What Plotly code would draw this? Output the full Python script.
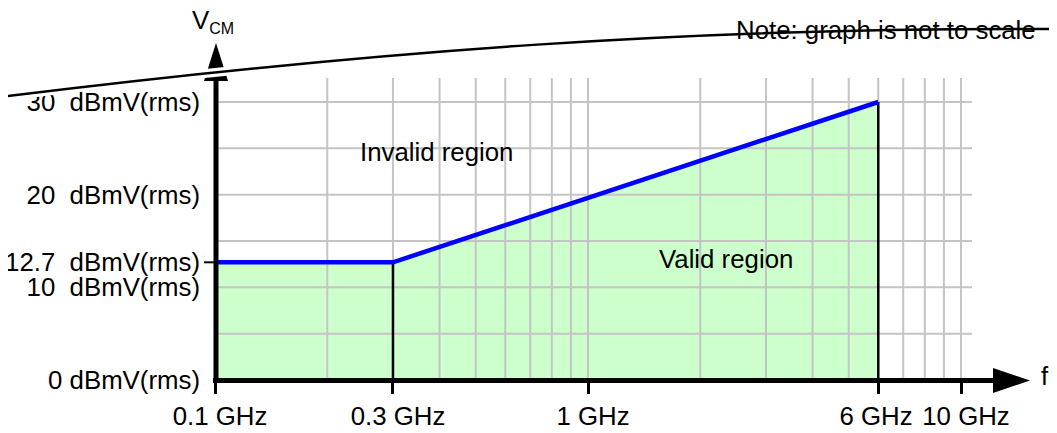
import plotly.graph_objects as go

# limit line (GHz, dBmV rms)
limit_f = [0.1, 0.3, 6]
limit_v = [12.7, 12.7, 30]

x_tick_vals = [0.1, 0.3, 1, 6, 10]
x_tick_text = ["0.1 GHz", "0.3 GHz", "1 GHz", "6 GHz\u00a0\u00a0", "10 GHz"]
y_tick_vals = [0, 10, 12.7, 20, 30]
y_tick_text = ["0 dBmV(rms)", "10  dBmV(rms)", "12.7  dBmV(rms)", "20  dBmV(rms)", "30  dBmV(rms)"]

x_grid = [0.1, 0.2, 0.3, 0.4, 0.5, 0.6, 0.7, 0.8, 0.9, 1, 2, 3, 4, 5, 6, 7, 8, 9, 10]
y_grid = [5, 10, 15, 20, 25, 30]

# page body has an 8px margin, so figure coords = screen coords - 8
OFF = 8
W, H = 1057, 433
L, T = 215 - OFF, 78 - OFF
R, B = W - (972 - OFF), H - (380 - OFF)
XR = [-1, -1 + (W - L - R) / 373]
YR = [0, (H - T - B) / ((380 - 102) / 30)]
FONT = "Liberation Sans, Arial, sans-serif"
FS = 25.8


def px(x):
    return (x - OFF - L) / (W - L - R)


def py(y):
    return (H - B - (y - OFF)) / (H - T - B)


fig = go.Figure()

# valid region fill
fig.add_trace(go.Scatter(
    x=limit_f + [limit_f[-1], limit_f[0]], y=limit_v + [0, 0],
    fill="toself", fillcolor="#ccffcc", mode="lines", line=dict(width=0),
    hoverinfo="skip"))

# grid (drawn over the fill)
gx, gy = [], []
for v in x_grid:
    gx += [v, v, None]
    gy += [0, YR[1], None]
for v in y_grid:
    gx += [x_grid[0], 10 ** XR[1], None]
    gy += [v, v, None]
fig.add_trace(go.Scatter(x=gx, y=gy, mode="lines",
                         line=dict(color="#c4c4c4", width=2), hoverinfo="skip"))

# drop lines at the corner frequencies
dx, dy = [], []
for f, v in zip(limit_f[1:], limit_v[1:]):
    dx += [f, f, None]
    dy += [0, v, None]
fig.add_trace(go.Scatter(x=dx, y=dy, mode="lines",
                         line=dict(color="black", width=2.5), hoverinfo="skip"))

fig.add_trace(go.Scatter(x=limit_f, y=limit_v, mode="lines",
                         line=dict(color="#0000ff", width=4.5), hoverinfo="skip"))

shapes = [
    # axes
    dict(type="line", xref="paper", yref="paper", x0=px(213), y0=py(380.5), x1=px(997), y1=py(380.5),
         line=dict(color="black", width=5)),
    dict(type="path", xref="paper", yref="paper", fillcolor="black", line=dict(width=0),
         path=f"M {px(993)},{py(368)} L {px(1030)},{py(380.5)} L {px(993)},{py(393)} Z"),
    dict(type="line", xref="paper", yref="paper", x0=px(216), y0=py(383), x1=px(216), y1=py(78),
         line=dict(color="black", width=5)),
    dict(type="path", xref="paper", yref="paper", fillcolor="black", line=dict(width=0),
         path=f"M {px(204)},{py(81)} L {px(216)},{py(43)} L {px(228)},{py(81)} Z"),
    # tick at 12.7
    dict(type="line", xref="paper", yref="y", x0=px(204), x1=px(214), y0=limit_v[0], y1=limit_v[0],
         line=dict(color="black", width=2)),
]
curve = (f"M {px(0)},{py(97)} C {px(380)},{py(50)} {px(700)},{py(27)} {px(1057)},{py(29)}")
shapes.append(dict(type="path", xref="paper", yref="paper", path=curve, line=dict(color="white", width=9)))
shapes.append(dict(type="path", xref="paper", yref="paper", path=curve, line=dict(color="black", width=2.5)))


def label(text, x, y):
    return dict(text=text, xref="paper", yref="paper", x=px(x), y=py(y), showarrow=False,
                xanchor="center", yanchor="middle", font=dict(size=FS))


annotations = [
    label("V<sub><span style='font-size:16px'>CM</span></sub>", 213, 21),
    label("f", 1045, 376),
    label("Note: graph is not to scale", 886, 30),
    label("Invalid region", 436, 152),
    label("Valid region", 726, 259),
]

fig.update_layout(
    width=W, height=H, margin=dict(l=L, r=R, t=T, b=B, autoexpand=False),
    paper_bgcolor="white", plot_bgcolor="white", showlegend=False,
    font=dict(family=FONT, size=FS, color="black"),
    shapes=shapes, annotations=annotations,
    xaxis=dict(type="log", range=XR, showgrid=False, zeroline=False, showline=False, automargin=False,
               tickvals=x_tick_vals, ticktext=x_tick_text, ticks="outside", ticklen=13,
               tickwidth=3, tickcolor="black", tickangle=0, ticklabelstandoff=0, ticklabelshift=5),
    yaxis=dict(range=YR, showgrid=False, zeroline=False, showline=False, automargin=False,
               tickvals=y_tick_vals, ticktext=y_tick_text, ticks="", ticklabelstandoff=14),
)

fig.write_html("out.html")
